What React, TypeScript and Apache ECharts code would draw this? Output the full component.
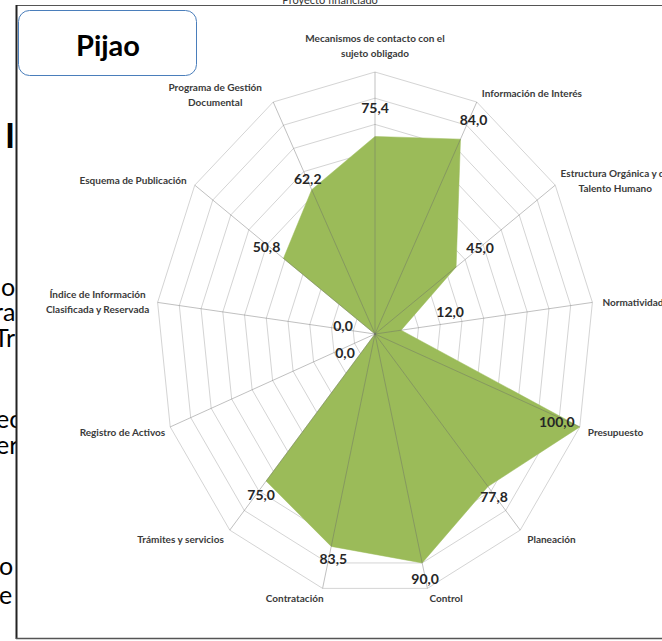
import React, { useEffect, useRef } from "react";
import * as echarts from "echarts";

// ---- data ----
const categories = [
  "Mecanismos de contacto con el\nsujeto obligado",
  "Información de Interés",
  "Estructura Orgánica y de\nTalento Humano",
  "Normatividad",
  "Presupuesto",
  "Planeación",
  "Control",
  "Contratación",
  "Trámites y servicios",
  "Registro de Activos",
  "Índice de Información\nClasificada y Reservada",
  "Esquema de Publicación",
  "Programa de Gestión\nDocumental",
];
const values = [75.4, 84.0, 45.0, 12.0, 100.0, 77.8, 90.0, 83.5, 75.0, 0.0, 0.0, 50.8, 62.2];
const ringLevels = [10, 20, 30, 40, 50, 60, 70, 80, 90, 100];
const axisMax = 100;
const entityName = "Pijao";
const topCaption = "Proyecto financiado";

// ---- layout (pixel offsets of labels, not data) ----
const valueLabelOffsets = [
  [0, -29], [13, -20], [24, -20], [49, -19], [-23, -5], [6, 10], [3, 16],
  [2, 12], [-5, 13], [-30, 18], [-32, -9], [-17, -12], [-4, -11],
];
const nameLabelLayout = [
  { dx: 0, dy: -27, align: "center" },
  { dx: 5, dy: -9, align: "left" },
  { dx: 60, dy: -5, align: "center" },
  { dx: 10, dy: 0, align: "left" },
  { dx: 8, dy: 5, align: "left" },
  { dx: 7, dy: 9, align: "left" },
  { dx: 2, dy: 10, align: "left" },
  { dx: 1, dy: 10, align: "right" },
  { dx: -6, dy: 9, align: "right" },
  { dx: -5, dy: 5, align: "right" },
  { dx: -60, dy: -1, align: "center" },
  { dx: -8, dy: -5, align: "right" },
  { dx: -58, dy: -8, align: "center" },
];
const sideFragments = [
  { t: "I", x: 5, y: 134, bold: true },
  { t: "o", x: 1, y: 286 },
  { t: "ra", x: -6, y: 311 },
  { t: "Tr", x: -6, y: 337 },
  { t: "ec", x: -4, y: 418 },
  { t: "er", x: -4, y: 444 },
  { t: "o", x: -1, y: 565 },
  { t: "e", x: -1, y: 594 },
];

const FONT = "Lato, 'Noto Sans', sans-serif";

function toXY(v: number, i: number) {
  const a = (i * 2 * Math.PI) / categories.length;
  return [v * Math.sin(a), v * Math.cos(a)];
}
function fmt(v: number) {
  return v.toFixed(1).replace(".", ",");
}

export default function App() {
  const ref = useRef<HTMLDivElement>(null);
  useEffect(() => {
    const chart = echarts.init(ref.current!, null, { renderer: "svg" });
    const option: any = {
      animation: false,
      backgroundColor: "#ffffff",
      grid: { left: 156, top: 72, width: 438, height: 524 },
      xAxis: { type: "value", min: -axisMax, max: axisMax, show: false },
      yAxis: { type: "value", min: -axisMax, max: axisMax, show: false },
      graphic: [
        ...sideFragments.map((f) => ({
          type: "text",
          z: 0,
          x: f.x,
          y: f.y,
          style: {
            text: f.t,
            fill: "#000",
            font: `${f.bold ? "bold 34px" : "25px"} ${FONT}`,
            lineHeight: f.bold ? 34 : 22,
            textAlign: "left",
            textVerticalAlign: "middle",
            align: "left",
            verticalAlign: "middle",
          },
        })),
        { type: "rect", z: 1, shape: { x: 17, y: 0, width: 700, height: 700 }, style: { fill: "#fff" } },
        {
          type: "text",
          z: 1,
          x: 330,
          y: -1,
          style: {
            text: topCaption, fill: "#333", font: `11px ${FONT}`,
            textAlign: "center", textVerticalAlign: "middle", align: "center", verticalAlign: "middle",
          },
        },
        { type: "line", z: 50, shape: { x1: 16.5, y1: 5.5, x2: 662, y2: 5.5 }, style: { stroke: "#555", lineWidth: 1 } },
        { type: "line", z: 50, shape: { x1: 16.5, y1: 5, x2: 16.5, y2: 639 }, style: { stroke: "#222", lineWidth: 2 } },
        { type: "line", z: 50, shape: { x1: 16, y1: 638.5, x2: 662, y2: 638.5 }, style: { stroke: "#555", lineWidth: 1.5 } },
        {
          type: "rect", z: 50,
          shape: { x: 18.5, y: 10.5, width: 178, height: 65, r: 11 },
          style: { fill: "#fff", stroke: "#4a7ebb", lineWidth: 1 },
        },
        {
          type: "text", z: 51, x: 108, y: 44,
          style: {
            text: entityName, fill: "#000", font: `bold 29px ${FONT}`,
            textAlign: "center", textVerticalAlign: "middle", align: "center", verticalAlign: "middle",
          },
        },
      ],
      series: [
        {
          type: "custom",
          name: "rings",
          z: 2,
          silent: true,
          data: ringLevels.map((l) => [l, 0]),
          renderItem: (_p: any, api: any) => {
            const l = api.value(0);
            const points = categories.map((_, i) => api.coord(toXY(l, i)));
            return { type: "polygon", shape: { points }, style: { fill: "none", stroke: "#d4d4d4", lineWidth: 1 } };
          },
        },
        {
          type: "custom",
          name: entityName,
          z: 3,
          silent: true,
          data: [[0, 0]],
          renderItem: (_p: any, api: any) => {
            const points = values.map((v, i) => api.coord(toXY(v, i)));
            return { type: "polygon", shape: { points }, style: { fill: "#9bbb59", stroke: "#9bbb59", lineWidth: 0.5 } };
          },
        },
        {
          type: "custom",
          name: "spokes",
          z: 4,
          silent: true,
          data: categories.map((_, i) => [i, 0]),
          renderItem: (_p: any, api: any) => {
            const i = api.value(0);
            const c = api.coord([0, 0]);
            const e = api.coord(toXY(axisMax, i));
            return {
              type: "line",
              shape: { x1: c[0], y1: c[1], x2: e[0], y2: e[1] },
              style: { stroke: "rgba(105,105,105,0.42)", lineWidth: 1 },
            };
          },
        },
        {
          type: "custom",
          name: "valueLabels",
          z: 5,
          silent: true,
          data: values.map((v, i) => [i, v]),
          renderItem: (_p: any, api: any) => {
            const i = api.value(0);
            const v = api.value(1);
            const p = api.coord(toXY(v, i));
            const o = valueLabelOffsets[i];
            return {
              type: "text",
              x: p[0] + o[0],
              y: p[1] + o[1],
              style: {
                text: fmt(v), fill: "#262626", font: `bold 14px ${FONT}`,
                textAlign: "center", textVerticalAlign: "middle", align: "center", verticalAlign: "middle",
              },
            };
          },
        },
        {
          type: "custom",
          name: "names",
          z: 5,
          silent: true,
          data: categories.map((_, i) => [i, 0]),
          renderItem: (_p: any, api: any) => {
            const i = api.value(0);
            const p = api.coord(toXY(axisMax, i));
            const L = nameLabelLayout[i];
            return {
              type: "text",
              x: p[0] + L.dx,
              y: p[1] + L.dy,
              style: {
                text: categories[i], fill: "#3a3a3a", font: `bold 10px ${FONT}`, lineHeight: 15,
                textAlign: L.align, textVerticalAlign: "middle", align: L.align, verticalAlign: "middle",
              },
            };
          },
        },
      ],
    };
    chart.setOption(option);
    return () => chart.dispose();
  }, []);
  return (
    <div
      ref={ref}
      style={{ position: "fixed", left: 0, top: 0, width: 662, height: 641 }}
    />
  );
}
